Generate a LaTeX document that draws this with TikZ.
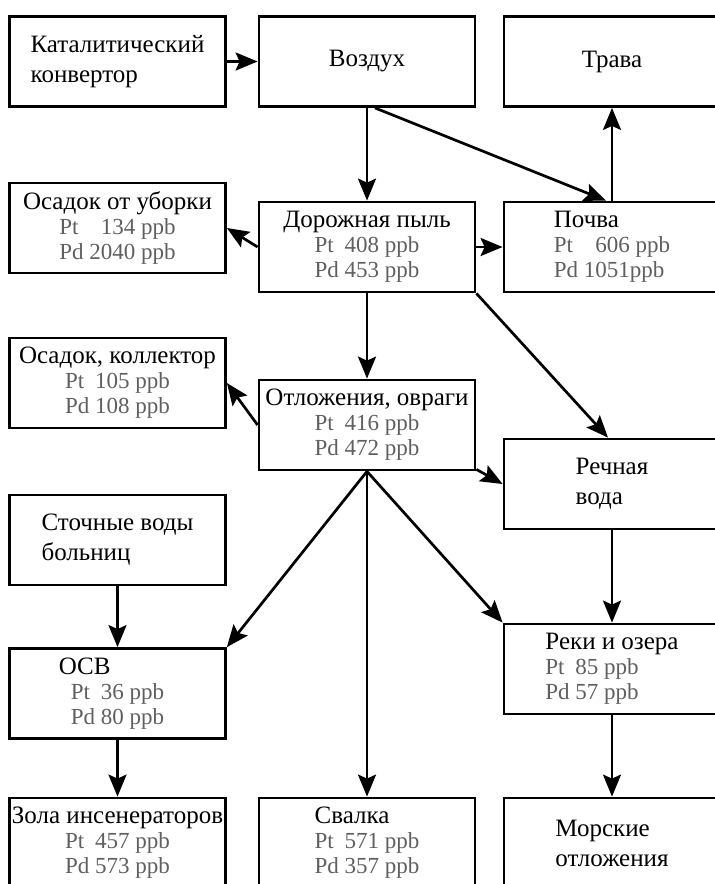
\documentclass[tikz,border=0pt]{standalone}
\usepackage{fontspec}
\setmainfont{Liberation Serif}
\usepackage{xcolor}
\definecolor{ppbgray}{RGB}{95,95,95}
\usetikzlibrary{arrows.meta,calc}
\newcommand{\ppbline}[1]{{\color{ppbgray}\fontsize{11.5}{12}\selectfont #1}}

\begin{document}
\begin{tikzpicture}[x=0.5pt,y=-0.5pt,
  box/.style={draw,line width=1.4pt,minimum width=108pt,minimum height=45pt,inner sep=1pt,font=\fontsize{12.5}{15}\selectfont},
  databox/.style={box,font=\fontsize{12.5}{12.5}\selectfont},
  flow/.style={-{Stealth[length=11pt,width=9pt,inset=2pt]},line width=1.35pt}]
  \clip (0,0) rectangle (715,884);
  \node[box,align=left] (conv) at (117.5,61.5) {Каталитический\\конвертор};
  \node[box] (air) at (367,61.5) {Воздух};
  \node[box] (grass) at (612,61.5) {Трава};
  \node[databox,align=center] (sweep) at (117.5,228) {Осадок от уборки\\ \ppbline{Pt\hspace{0.97em}134 ppb}\\ \ppbline{Pd 2040 ppb}};
  \node[databox,align=center] (dust) at (367,247) {Дорожная пыль\\ \ppbline{Pt\hspace{0.47em}408 ppb}\\ \ppbline{Pd 453 ppb}};
  \node[databox,align=left] (soil) at (612,247) {Почва\\ \ppbline{Pt\hspace{0.97em}606 ppb}\\ \ppbline{Pd 1051ppb}};
  \node[databox,align=center] (coll) at (117.5,383) {Осадок, коллектор\\ \ppbline{Pt\hspace{0.47em}105 ppb}\\ \ppbline{Pd 108 ppb}};
  \node[databox,align=center] (gully) at (367,425) {Отложения, овраги\\ \ppbline{Pt\hspace{0.47em}416 ppb}\\ \ppbline{Pd 472 ppb}};
  \node[box,align=left] (river) at (612,484) {Речная\\вода};
  \node[box,align=left] (hosp) at (117.5,540) {Сточные воды\\больниц};
  \node[databox,align=left] (wtp) at (117.5,693.5) {\hspace*{-6pt}ОСВ\\ \ppbline{Pt\hspace{0.47em}36 ppb}\\ \ppbline{Pd 80 ppb}};
  \node[databox,align=left] (lakes) at (612,669) {Реки и озера\\ \ppbline{Pt\hspace{0.47em}85 ppb}\\ \ppbline{Pd 57 ppb}};
  \node[databox,align=center] (ash) at (117.5,843) {Зола инсенераторов\\ \ppbline{Pt\hspace{0.47em}457 ppb}\\ \ppbline{Pd 573 ppb}};
  \node[databox,align=left] (dump) at (367,843) {Свалка\\ \ppbline{Pt\hspace{0.47em}571 ppb}\\ \ppbline{Pd 357 ppb}};
  \node[box,align=left] (sea) at (612,843) {Морские\\отложения};

  \draw[flow] (conv) -- (air);
  \draw[flow] (air) -- (dust);
  \draw[flow] ($(air.south)+(8,0)$) -- ($(soil.north)+(-6,0)$);
  \draw[flow] (soil) -- (grass);
  \draw[flow] (dust.west) -- (sweep.east);
  \draw[flow] (dust) -- (soil);
  \draw[flow] (dust) -- (gully);
  \draw[flow] (dust.south east) -- ($(river.north)+(-4,0)$);
  \draw[flow] (gully.west) -- (coll.east);
  \draw[flow] ($(gully.south east)+(0,-2)$) -- (river.west);
  \draw[flow] (gully.south) -- (wtp.north east);
  \draw[flow] (gully.south) -- (dump.north);
  \draw[flow] (gully.south) -- (lakes.north west);
  \draw[flow] (river) -- (lakes);
  \draw[flow] (hosp) -- (wtp);
  \draw[flow] (wtp) -- (ash);
  \draw[flow] (lakes) -- (sea);
\end{tikzpicture}
\end{document}
